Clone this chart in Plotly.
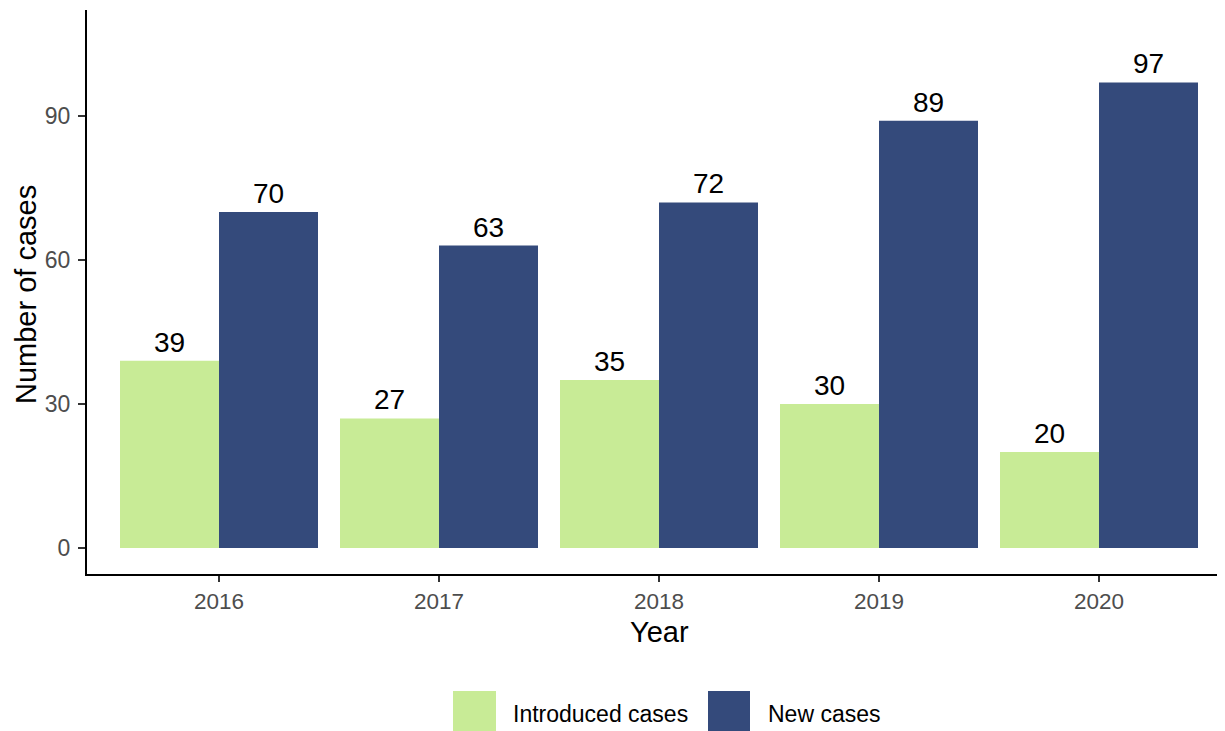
import plotly.graph_objects as go

years = [2016, 2017, 2018, 2019, 2020]
introduced = [39, 27, 35, 30, 20]
new_cases = [70, 63, 72, 89, 97]
series_names = ["Introduced cases", "New cases"]
colors = ["#C8EB96", "#344A7B"]
y_ticks = [0, 30, 60, 90]

FONT = "Liberation Sans, Arial, sans-serif"

fig = go.Figure()
for name, vals, col in zip(series_names, [introduced, new_cases], colors):
    fig.add_trace(go.Bar(
        x=years, y=vals, name=name, marker=dict(color=col, line=dict(width=0)),
        text=[str(v) for v in vals], textposition="outside",
        textfont=dict(size=28, color="black", family=FONT),
        cliponaxis=False, constraintext="none", showlegend=False,
    ))

OFF = 8  # page body margin
W, H = 1225 - OFF, 731 - OFF
L, R, T, B = 87 - OFF, 0, 10 - OFF, H - (574 - OFF)
pw = W - L - R
ph = H - T - B
px_per_unit = 220.0
x0 = 2015.4
x1 = x0 + pw / px_per_unit
y_lo = -5.42
y_hi = y_lo + ph / 4.8

fig.update_layout(
    width=W, height=H,
    margin=dict(l=L, r=R, t=T, b=B, pad=0),
    plot_bgcolor="white", paper_bgcolor="white",
    barmode="group", bargap=0.1, bargroupgap=0,
    font=dict(family=FONT),
    xaxis=dict(
        range=[x0, x1], tickmode="array", tickvals=years, ticktext=[str(y) for y in years],
        showgrid=False, zeroline=False, showline=True, linecolor="black", linewidth=2,
        ticks="outside", ticklen=6, tickwidth=2, tickcolor="#333333",
        tickfont=dict(size=22.5, color="#4D4D4D", family=FONT),
    ),
    yaxis=dict(
        range=[y_lo, y_hi], tickmode="array", tickvals=y_ticks,
        showgrid=False, zeroline=False, showline=True, linecolor="black", linewidth=2,
        ticks="outside", ticklen=7, tickwidth=2, tickcolor="#333333",
        tickfont=dict(size=23, color="#4D4D4D", family=FONT),
        ticklabelstandoff=3,
    ),
)

# helpers converting page pixels (reference coordinates) to paper coords
def px_x(p):
    return (p - 87) / pw

def px_y(p):
    return (574 - p) / ph

annotations = [
    dict(text="Year", x=px_x(659), y=px_y(632), xref="paper", yref="paper",
         showarrow=False, font=dict(size=29, color="black", family=FONT),
         xanchor="center", yanchor="middle"),
    dict(text="Number of cases", x=px_x(26), y=px_y(295), xref="paper", yref="paper",
         showarrow=False, textangle=-90, font=dict(size=29, color="black", family=FONT),
         xanchor="center", yanchor="middle"),
]
shapes = []
legend_boxes = [(453, 496), (708, 750)]
legend_text_x = [511, 766]
for name, col, (a, b), tx in zip(series_names, colors, legend_boxes, legend_text_x):
    shapes.append(dict(type="rect", xref="paper", yref="paper",
                       x0=px_x(a), x1=px_x(b), y0=px_y(733), y1=px_y(691),
                       fillcolor=col, line=dict(width=0)))
    annotations.append(dict(text=name, x=px_x(tx), y=px_y(714), xref="paper", yref="paper",
                            showarrow=False, xanchor="left", yanchor="middle",
                            font=dict(size=23, color="black", family=FONT)))
fig.update_layout(annotations=annotations, shapes=shapes)

fig.write_html("out.html")
